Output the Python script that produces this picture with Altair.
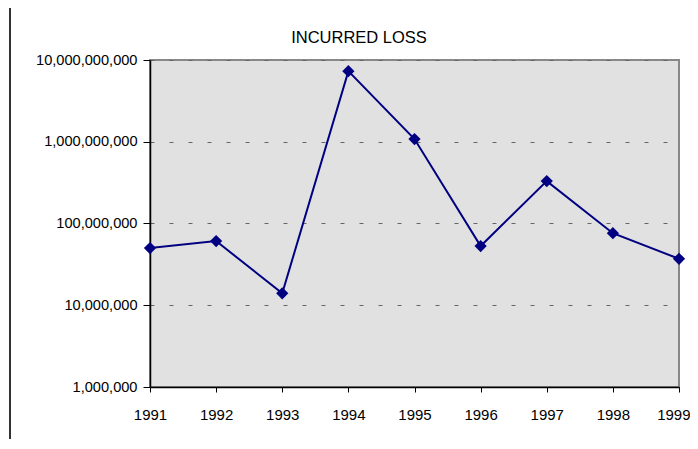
import altair as alt
import pandas as pd

years = [1991, 1992, 1993, 1994, 1995, 1996, 1997, 1998, 1999]
losses = [50e6, 61e6, 14e6, 7.3e9, 1.08e9, 53e6, 330e6, 76e6, 37e6]
y_ticks = [1e6, 1e7, 1e8, 1e9, 1e10]

df = pd.DataFrame({"year": years, "loss": losses})

W, H = 529, 327
FONT = "Liberation Sans"

xs = alt.X("year:Q", scale=alt.Scale(domain=[1991, 1999], nice=False, zero=False),
           axis=alt.Axis(values=years, format="d", title=None, grid=False,
                         domain=True, domainColor="black", domainWidth=1.5,
                         tickColor="black", tickSize=5, tickWidth=1, labelPadding=15,
                         labelFlush=False, labelOverlap=False, labelBound=False,
                         labelAlign=alt.expr("datum.value == 1999 ? 'right' : 'center'"),
                         labelOffset=alt.expr("datum.value == 1999 ? 11 : 0"),
                         labelFont=FONT, labelFontSize=15, labelColor="black"))
ys = alt.Y("loss:Q", scale=alt.Scale(type="log", domain=[1e6, 1e10], nice=False),
           axis=alt.Axis(values=y_ticks, format=",d", title=None, grid=True,
                         gridColor="#666666", gridDash=[4, 15], gridWidth=1,
                         domain=True, domainColor="black", domainWidth=1.5,
                         tickColor="black", tickSize=7, tickWidth=1, labelPadding=6,
                         labelFlush=False, labelOverlap=False,
                         labelFont=FONT, labelFontSize=14.6, labelColor="black"))

base = alt.Chart(df)
line = base.mark_line(color="#000080", strokeWidth=2).encode(x=xs, y=ys)
pts = base.mark_point(shape="diamond", filled=True, size=150, color="#000080", opacity=1).encode(x="year:Q", y="loss:Q")

title = alt.Chart(pd.DataFrame({"t": ["INCURRED LOSS"]})).mark_text(
    font=FONT, fontSize=16.5, color="black", align="center", baseline="middle"
).encode(x=alt.value(209), y=alt.value(-22), text="t:N")

frame_top = alt.Chart(pd.DataFrame({"a": [0]})).mark_rule(color="#333333", strokeWidth=2).encode(
    x=alt.value(-140), x2=alt.value(W + 40), y=alt.value(-55))
frame_left = alt.Chart(pd.DataFrame({"a": [0]})).mark_rule(color="#333333", strokeWidth=2).encode(
    x=alt.value(-140), y=alt.value(-55), y2=alt.value(H + 120))

chart = alt.layer(frame_top, frame_left, line, pts, title).properties(
    width=W, height=H,
    autosize=alt.AutoSizeParams(type="none"),
    padding={"left": 142, "top": 52, "right": 11, "bottom": 52},
).configure(background="white").configure_view(fill="#e1e1e1", stroke="#888888", strokeWidth=2)

chart.save("out.html", embed_options={"renderer": "svg", "actions": False})
